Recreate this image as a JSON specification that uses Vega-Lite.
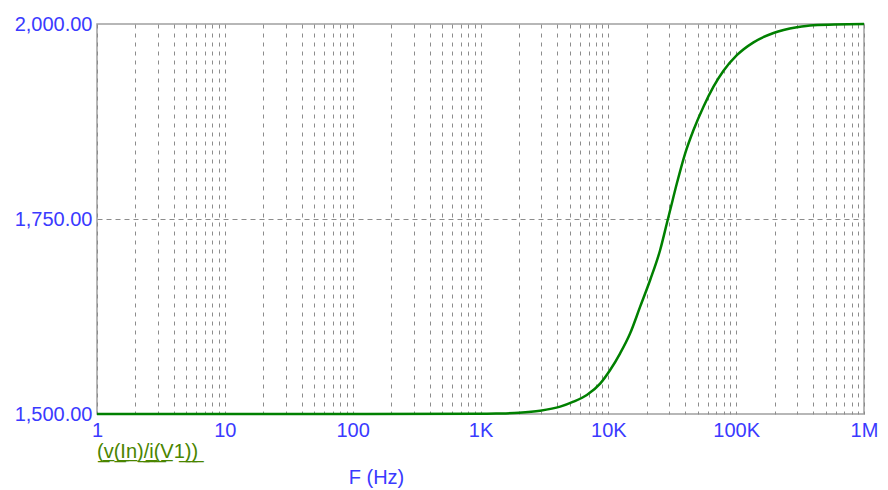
{
  "$schema": "https://vega.github.io/schema/vega-lite/v6.json",
  "width": 767,
  "height": 390,
  "autosize": "none",
  "padding": {"left": 97, "top": 24, "right": 24, "bottom": 76},
  "background": "white",
  "config": {
    "view": {"stroke": "#a0a0a0", "strokeWidth": 1.5},
    "font": "Liberation Sans"
  },
  "data": {
    "values": [
      {"f": 1, "z": 1500, "trace": "(̲v̲(̲I̲n̲)̲/̲i̲(̲V̲1̲)̲)̲"},
      {"f": 10, "z": 1500, "trace": "(̲v̲(̲I̲n̲)̲/̲i̲(̲V̲1̲)̲)̲"},
      {"f": 100, "z": 1500, "trace": "(̲v̲(̲I̲n̲)̲/̲i̲(̲V̲1̲)̲)̲"},
      {"f": 1000, "z": 1500.2, "trace": "(̲v̲(̲I̲n̲)̲/̲i̲(̲V̲1̲)̲)̲"},
      {"f": 1349, "z": 1500.6, "trace": "(̲v̲(̲I̲n̲)̲/̲i̲(̲V̲1̲)̲)̲"},
      {"f": 2000, "z": 1501.6, "trace": "(̲v̲(̲I̲n̲)̲/̲i̲(̲V̲1̲)̲)̲"},
      {"f": 2927, "z": 1504.2, "trace": "(̲v̲(̲I̲n̲)̲/̲i̲(̲V̲1̲)̲)̲"},
      {"f": 4198, "z": 1509.4, "trace": "(̲v̲(̲I̲n̲)̲/̲i̲(̲V̲1̲)̲)̲"},
      {"f": 5333, "z": 1515.8, "trace": "(̲v̲(̲I̲n̲)̲/̲i̲(̲V̲1̲)̲)̲"},
      {"f": 6788, "z": 1524.4, "trace": "(̲v̲(̲I̲n̲)̲/̲i̲(̲V̲1̲)̲)̲"},
      {"f": 8630, "z": 1539, "trace": "(̲v̲(̲I̲n̲)̲/̲i̲(̲V̲1̲)̲)̲"},
      {"f": 10330, "z": 1556.4, "trace": "(̲v̲(̲I̲n̲)̲/̲i̲(̲V̲1̲)̲)̲"},
      {"f": 12370, "z": 1577.8, "trace": "(̲v̲(̲I̲n̲)̲/̲i̲(̲V̲1̲)̲)̲"},
      {"f": 14820, "z": 1603.5, "trace": "(̲v̲(̲I̲n̲)̲/̲i̲(̲V̲1̲)̲)̲"},
      {"f": 17740, "z": 1637.6, "trace": "(̲v̲(̲I̲n̲)̲/̲i̲(̲V̲1̲)̲)̲"},
      {"f": 21240, "z": 1671.8, "trace": "(̲v̲(̲I̲n̲)̲/̲i̲(̲V̲1̲)̲)̲"},
      {"f": 25430, "z": 1710.3, "trace": "(̲v̲(̲I̲n̲)̲/̲i̲(̲V̲1̲)̲)̲"},
      {"f": 28700, "z": 1744.5, "trace": "(̲v̲(̲I̲n̲)̲/̲i̲(̲V̲1̲)̲)̲"},
      {"f": 30470, "z": 1761.5, "trace": "(̲v̲(̲I̲n̲)̲/̲i̲(̲V̲1̲)̲)̲"},
      {"f": 34380, "z": 1795.8, "trace": "(̲v̲(̲I̲n̲)̲/̲i̲(̲V̲1̲)̲)̲"},
      {"f": 39920, "z": 1834.2, "trace": "(̲v̲(̲I̲n̲)̲/̲i̲(̲V̲1̲)̲)̲"},
      {"f": 46380, "z": 1864.1, "trace": "(̲v̲(̲I̲n̲)̲/̲i̲(̲V̲1̲)̲)̲"},
      {"f": 55490, "z": 1894, "trace": "(̲v̲(̲I̲n̲)̲/̲i̲(̲V̲1̲)̲)̲"},
      {"f": 66470, "z": 1919.6, "trace": "(̲v̲(̲I̲n̲)̲/̲i̲(̲V̲1̲)̲)̲"},
      {"f": 79610, "z": 1940, "trace": "(̲v̲(̲I̲n̲)̲/̲i̲(̲V̲1̲)̲)̲"},
      {"f": 101200, "z": 1960, "trace": "(̲v̲(̲I̲n̲)̲/̲i̲(̲V̲1̲)̲)̲"},
      {"f": 136700, "z": 1976.5, "trace": "(̲v̲(̲I̲n̲)̲/̲i̲(̲V̲1̲)̲)̲"},
      {"f": 196000, "z": 1988.5, "trace": "(̲v̲(̲I̲n̲)̲/̲i̲(̲V̲1̲)̲)̲"},
      {"f": 298500, "z": 1995.8, "trace": "(̲v̲(̲I̲n̲)̲/̲i̲(̲V̲1̲)̲)̲"},
      {"f": 400800, "z": 1998.5, "trace": "(̲v̲(̲I̲n̲)̲/̲i̲(̲V̲1̲)̲)̲"},
      {"f": 1000000, "z": 2000, "trace": "(̲v̲(̲I̲n̲)̲/̲i̲(̲V̲1̲)̲)̲"}
    ]
  },
  "mark": {"type": "line", "strokeWidth": 2.5, "interpolate": "monotone", "clip": false},
  "encoding": {
    "x": {
      "field": "f",
      "type": "quantitative",
      "scale": {"type": "log", "domain": [1, 1000000], "nice": false},
      "axis": {
        "title": "F (Hz)",
        "titleX": 279,
        "titleY": 63,
        "titleAlign": "center",
        "titleBaseline": "middle",
        "titleFontSize": 20,
        "titleFontWeight": "normal",
        "titleColor": "#3a3aff",
        "domain": false,
        "ticks": false,
        "labelPadding": 6,
        "labelFontSize": 20,
        "labelColor": "#3a3aff",
        "labelFlush": false,
        "labelOverlap": false,
        "values": [1,2,3,4,5,6,7,8,9,10,20,30,40,50,60,70,80,90,100,200,300,400,500,600,700,800,900,1000,2000,3000,4000,5000,6000,7000,8000,9000,10000,20000,30000,40000,50000,60000,70000,80000,90000,100000,200000,300000,400000,500000,600000,700000,800000,900000,1000000],
        "labelExpr": "datum.value == 1 ? '1' : datum.value == 10 ? '10' : datum.value == 100 ? '100' : datum.value == 1000 ? '1K' : datum.value == 10000 ? '10K' : datum.value == 100000 ? '100K' : datum.value == 1000000 ? '1M' : ''",
        "grid": true,
        "gridColor": "#8c8c8c",
        "gridDash": [4, 5],
        "gridWidth": 1
      }
    },
    "y": {
      "field": "z",
      "type": "quantitative",
      "scale": {"domain": [1500, 2000], "nice": false, "zero": false},
      "axis": {
        "title": null,
        "domain": false,
        "ticks": false,
        "values": [1500, 1750, 2000],
        "format": ",.2f",
        "labelPadding": 5,
        "labelFontSize": 20,
        "labelColor": "#3a3aff",
        "labelFlush": false,
        "grid": true,
        "gridColor": "#8c8c8c",
        "gridDash": [5, 4],
        "gridWidth": 1,
        "gridOpacity": {"condition": {"test": "datum.value == 1750", "value": 1}, "value": 0}
      }
    },
    "color": {
      "field": "trace",
      "type": "nominal",
      "scale": {"range": ["#008000"]},
      "legend": {
        "title": null,
        "orient": "none",
        "legendX": -20,
        "legendY": 418,
        "padding": 0,
        "symbolSize": 0,
        "symbolStrokeWidth": 0,
        "symbolOpacity": 0,
        "labelOffset": 0,
        "labelFontSize": 20,
        "labelColor": "#4a8500",
        "labelLimit": 400
      }
    }
  }
}
